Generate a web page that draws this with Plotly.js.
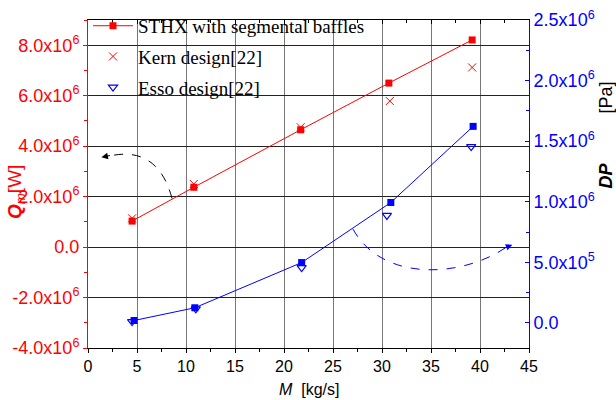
<!DOCTYPE html>
<html>
<head>
<meta charset="utf-8">
<script src="https://cdn.plot.ly/plotly-3.0.1.min.js"></script>
<style>html,body{margin:0;padding:0;background:#fff;}#chart{width:616px;height:400px;}</style>
</head>
<body>
<div id="chart"></div>
<script>
// ---- data ----
var massSthx = [4.5, 10.8, 21.7, 30.7, 39.2];
var qSthx    = [1.03e6, 2.37e6, 4.65e6, 6.5e6, 8.21e6];
var massKern = [4.5, 10.8, 21.7, 30.8, 39.2];
var qKern    = [1.14e6, 2.5e6, 4.75e6, 5.79e6, 7.12e6];
var massDp   = [4.7, 10.9, 21.8, 30.9, 39.3];
var dpSthx   = [0.02e6, 0.125e6, 0.498e6, 0.994e6, 1.622e6];
var massEsso = [4.5, 11.0, 21.8, 30.5, 39.1];
var dpEsso   = [0.011e6, 0.116e6, 0.457e6, 0.887e6, 1.455e6];

var xTicks = [0, 5, 10, 15, 20, 25, 30, 35, 40, 45];
var qTickVals = [-4e6, -2e6, 0, 2e6, 4e6, 6e6, 8e6];
var qTickText = ['-4.0x10<sup>6</sup>', '-2.0x10<sup>6</sup>', '0.0', '2.0x10<sup>6</sup>', '4.0x10<sup>6</sup>', '6.0x10<sup>6</sup>', '8.0x10<sup>6</sup>'];
var dpTickVals = [0, 5e5, 1e6, 1.5e6, 2e6, 2.5e6];
var dpTickText = ['0.0', '5.0x10<sup>5</sup>', '1.0x10<sup>6</sup>', '1.5x10<sup>6</sup>', '2.0x10<sup>6</sup>', '2.5x10<sup>6</sup>'];

var legendNames = ['STHX with segmental baffles', 'Kern design[22]', 'Esso design[22]'];

// decorative curved arrows (data coordinates)
var blackArrowPath = 'M 8.57,1.93e6 C 7.5,3.5e6 5,3.9e6 1.9,3.58e6';
var blueArrowPath = 'M 27.04,0.774e6 C 30,0.34e6 38,0.37e6 42.6,0.62e6';
var blackHead = {x: 1.37, y: 3.56e6};
var blueHead = {x: 43.3, y: 0.645e6};

var RED = '#ff0000', BLUE = '#0000ff';
var sansFont = 'Liberation Sans, Arial, sans-serif';
var serifFont = 'Liberation Serif, Times New Roman, serif';

var traces = [
  {x: massSthx, y: qSthx, name: legendNames[0], type: 'scatter', mode: 'lines+markers',
   line: {color: RED, width: 1}, marker: {symbol: 'square', size: 7, color: RED},
   legendgroup: 'a', yaxis: 'y'},
  {x: massKern, y: qKern, name: legendNames[1], type: 'scatter', mode: 'markers',
   marker: {symbol: 'x-thin-open', size: 8, color: RED, line: {color: RED, width: 1}},
   legendgroup: 'b', yaxis: 'y'},
  {x: massDp, y: dpSthx, name: 'DP STHX', type: 'scatter', mode: 'lines+markers',
   line: {color: BLUE, width: 1}, marker: {symbol: 'square', size: 7, color: BLUE},
   showlegend: false, yaxis: 'y2'},
  {x: massEsso, y: dpEsso, name: legendNames[2], type: 'scatter', mode: 'markers',
   marker: {symbol: 'triangle-down-open', size: 8, color: BLUE, line: {color: BLUE, width: 1.2}},
   legendgroup: 'c', yaxis: 'y2'},
  {x: [], y: [], xaxis: 'x2', yaxis: 'y', showlegend: false, hoverinfo: 'skip', type: 'scatter'}
];

var layout = {
  width: 616, height: 400,
  margin: {l: 88, r: 87, t: 20, b: 52, autoexpand: false},
  paper_bgcolor: '#fff', plot_bgcolor: '#fff',
  font: {family: sansFont, size: 16, color: '#000'},
  showlegend: true,
  legend: {x: 0, y: 1.04, xanchor: 'left', yanchor: 'top', bgcolor: 'rgba(0,0,0,0)',
           font: {family: serifFont, size: 19, color: '#000'}, tracegroupgap: 3,
           traceorder: 'grouped', itemwidth: 40},
  xaxis: {range: [0, 45], tickvals: xTicks, ticks: 'outside', ticklen: 4, tickcolor: '#000',
          showline: true, linecolor: '#000', linewidth: 1, showgrid: true, gridcolor: '#777',
          zeroline: false, tickfont: {size: 16, color: '#000', family: sansFont},
          minor: {dtick: 2.5, tick0: 0, ticks: 'outside', ticklen: 3, tickcolor: '#000', showgrid: false}},
  xaxis2: {range: [0, 45], overlaying: 'x', side: 'top', anchor: 'y', dtick: 5, tick0: 0,
           ticks: 'inside', ticklen: 4, tickcolor: '#000', showticklabels: false,
           showline: true, linecolor: '#000', showgrid: false, zeroline: false,
           minor: {dtick: 2.5, tick0: 0, ticks: 'inside', ticklen: 3, tickcolor: '#000', showgrid: false}},
  yaxis: {range: [-4e6, 9e6], tickmode: 'array', tickvals: qTickVals, ticktext: qTickText,
          ticks: 'outside', ticklen: 4, tickcolor: RED, showline: true, linecolor: RED,
          showgrid: true, gridcolor: '#222', zeroline: false,
          tickfont: {size: 18, color: RED, family: sansFont},
          minor: {dtick: 1e6, tick0: 0, ticks: 'outside', ticklen: 3, tickcolor: RED, showgrid: false}},
  yaxis2: {range: [-0.207e6, 2.5e6], overlaying: 'y', side: 'right', tickmode: 'array',
           tickvals: dpTickVals, ticktext: dpTickText, ticks: 'inside', ticklen: 4, tickcolor: BLUE,
           showline: true, linecolor: BLUE, showgrid: false, zeroline: false,
           tickfont: {size: 18, color: BLUE, family: sansFont},
           minor: {dtick: 2.5e5, tick0: 0, ticks: 'inside', ticklen: 3, tickcolor: BLUE, showgrid: false}},
  shapes: [
    {type: 'path', xref: 'x', yref: 'y', path: blackArrowPath, line: {color: '#000', width: 1, dash: 'dash'}},
    {type: 'path', xref: 'x', yref: 'y2', path: blueArrowPath, line: {color: BLUE, width: 1, dash: 'dash'}}
  ],
  annotations: [
    {x: blackHead.x, y: blackHead.y, xref: 'x', yref: 'y', text: '', showarrow: true,
     ax: 10, ay: -2, arrowhead: 2, arrowsize: 1.3, arrowwidth: 1, arrowcolor: '#000'},
    {x: blueHead.x, y: blueHead.y, xref: 'x', yref: 'y2', text: '', showarrow: true,
     ax: -10, ay: 4, arrowhead: 2, arrowsize: 1.3, arrowwidth: 1, arrowcolor: BLUE},
    {x: 0, y: 0.4756, xref: 'paper', yref: 'paper', xshift: -72, xanchor: 'center', yanchor: 'middle',
     textangle: -90, showarrow: false, text: '<b><i>Q</i></b><sub><i>m</i></sub>[W]',
     font: {family: sansFont, size: 19, color: RED}},
    {x: 1, y: 0.648, xref: 'paper', yref: 'paper', xshift: 77, xanchor: 'center', yanchor: 'middle',
     textangle: -90, showarrow: false,
     text: '<b><i>DP</i></b>\u00a0\u00a0\u00a0\u00a0\u00a0\u00a0\u00a0\u00a0\u00a0\u00a0[Pa]',
     font: {family: sansFont, size: 18, color: '#000'}},
    {x: 0.5, y: 0, xref: 'paper', yref: 'paper', yshift: -41, xanchor: 'center', yanchor: 'middle',
     showarrow: false, text: '<i>M</i>\u00a0\u00a0[kg/s]',
     font: {family: sansFont, size: 16, color: '#000'}}
  ]
};

Plotly.newPlot('chart', traces, layout, {displayModeBar: false, staticPlot: true});
</script>
</body>
</html>
